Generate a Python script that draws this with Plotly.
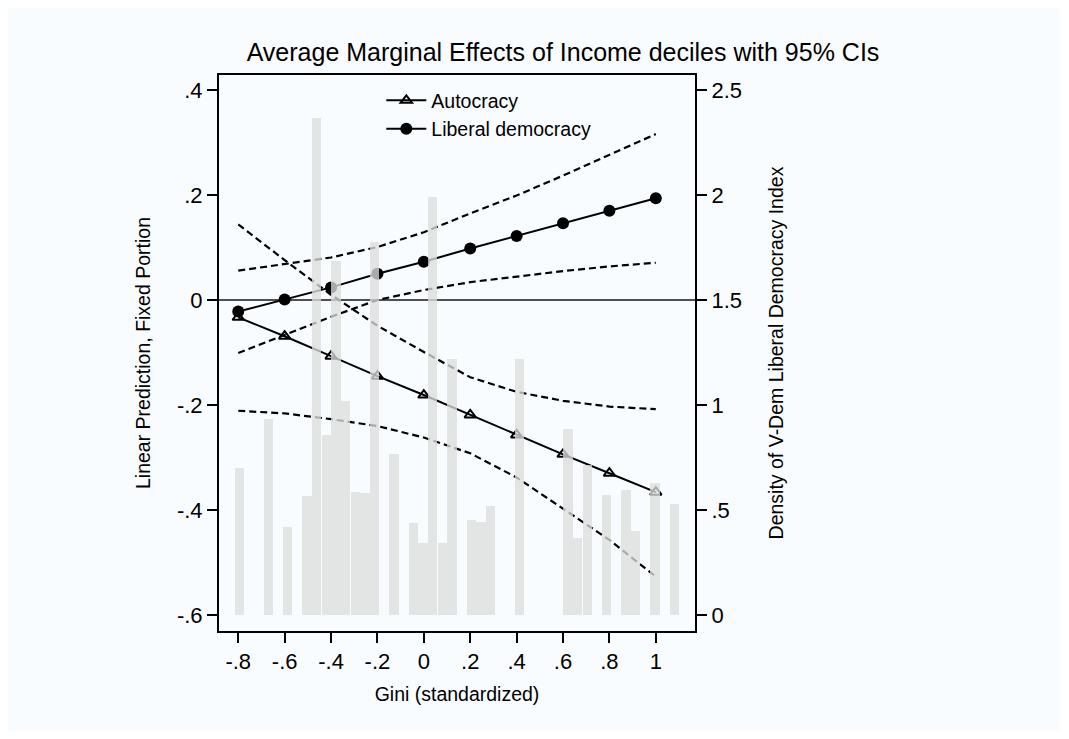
import plotly.graph_objects as go

# ---- data ----
gini_points = [-0.8, -0.6, -0.4, -0.2, 0.0, 0.2, 0.4, 0.6, 0.8, 1.0]
x_tick_labels = ["-.8", "-.6", "-.4", "-.2", "0", ".2", ".4", ".6", ".8", "1"]

autocracy_mean = [-0.033, -0.069, -0.107, -0.145, -0.181, -0.219, -0.257, -0.294, -0.330, -0.366]
autocracy_upper = [0.144, 0.076, 0.010, -0.049, -0.099, -0.147, -0.175, -0.192, -0.203, -0.208]
autocracy_lower = [-0.211, -0.216, -0.227, -0.240, -0.262, -0.292, -0.338, -0.397, -0.457, -0.527]

libdem_mean = [-0.022, 0.001, 0.024, 0.050, 0.073, 0.098, 0.122, 0.146, 0.170, 0.194]
libdem_upper = [0.056, 0.068, 0.081, 0.101, 0.129, 0.165, 0.199, 0.237, 0.276, 0.316]
libdem_lower = [-0.101, -0.067, -0.032, 0.000, 0.019, 0.034, 0.045, 0.055, 0.064, 0.071]

density_x = [-0.795, -0.670, -0.587, -0.503, -0.462, -0.420, -0.378, -0.337, -0.295, -0.253,
             -0.212, -0.128, -0.045, -0.003, 0.038, 0.080, 0.122, 0.205, 0.247, 0.288,
             0.413, 0.622, 0.663, 0.705, 0.788, 0.872, 0.913, 0.997, 1.080]
density_y = [0.703, 0.933, 0.422, 0.568, 2.366, 0.858, 1.686, 1.020, 0.588, 0.581,
             1.778, 0.766, 0.439, 0.345, 1.992, 0.345, 1.220, 0.454, 0.445, 0.520,
             1.221, 0.885, 0.369, 0.715, 0.573, 0.596, 0.403, 0.631, 0.528]

y_left_ticks = [-0.6, -0.4, -0.2, 0.0, 0.2, 0.4]
y_left_labels = ["-.6", "-.4", "-.2", "0", ".2", ".4"]
y_right_ticks = [0, 0.5, 1, 1.5, 2, 2.5]
y_right_labels = ["0", ".5", "1", "1.5", "2", "2.5"]

FONT = "Liberation Sans, Arial, Helvetica, sans-serif"
BG = "#f9fcfe"
W, H = 1053, 723  # page body margin of 8px completes the 1069x739 window

fig = go.Figure()

dash_style = dict(color="black", width=2.2, dash="7px,4px")

for ys in (autocracy_upper, autocracy_lower, libdem_upper, libdem_lower):
    fig.add_trace(go.Scatter(x=gini_points, y=ys, mode="lines", line=dash_style,
                             showlegend=False, hoverinfo="skip"))

fig.add_trace(go.Scatter(
    x=gini_points, y=autocracy_mean, mode="lines+markers", name="Autocracy",
    line=dict(color="black", width=2),
    marker=dict(symbol="triangle-up-open", size=10, color="black", line=dict(width=2, color="black")),
))
fig.add_trace(go.Scatter(
    x=gini_points, y=libdem_mean, mode="lines+markers", name="Liberal democracy",
    line=dict(color="black", width=2),
    marker=dict(symbol="circle", size=12, color="black"),
))

fig.add_trace(go.Bar(
    x=density_x, y=density_y, yaxis="y2", width=0.0405,
    marker=dict(color="rgb(221,221,221)", line=dict(width=0)), opacity=0.77,
    showlegend=False, hoverinfo="skip",
))

axis_common = dict(
    showgrid=False, showline=True, linecolor="black", linewidth=2,
    ticks="outside", ticklen=10, tickwidth=1.5, tickcolor="black",
    tickfont=dict(family=FONT, size=22, color="black"),
)
title_font = dict(family=FONT, size=19.5, color="black")

fig.update_layout(
    width=W, height=H,
    paper_bgcolor=BG, plot_bgcolor=BG,
    margin=dict(l=211, r=366, t=67, b=100),
    title=dict(text="Average Marginal Effects of Income deciles with 95% CIs",
               x=555 / W, xanchor="center",
               y=1 - 44 / H, yanchor="middle",
               font=dict(family=FONT, size=25, color="black")),
    xaxis=dict(range=[-0.883, 1.169], tickvals=gini_points, ticktext=x_tick_labels,
               mirror=True, zeroline=False,
               title=dict(text="Gini (standardized)", font=title_font, standoff=14),
               **axis_common),
    yaxis=dict(range=[-0.6305, 0.4286], tickvals=y_left_ticks, ticktext=y_left_labels,
               zeroline=True, zerolinecolor="#505050", zerolinewidth=2,
               title=dict(text="Linear Prediction, Fixed Portion", font=title_font, standoff=21),
               **axis_common),
    yaxis2=dict(range=[-0.0747, 2.572], tickvals=y_right_ticks, ticktext=y_right_labels,
                overlaying="y", side="right", zeroline=False,
                title=dict(text="Density of V-Dem Liberal Democracy Index", font=title_font, standoff=28),
                **axis_common),
    legend=dict(x=0.341, y=0.989, xanchor="left", yanchor="top", bgcolor="rgba(0,0,0,0)",
                font=dict(family=FONT, size=19.5, color="black"), tracegroupgap=0, itemwidth=40),
    showlegend=True,
    bargap=0,
)

fig.write_html("out.html")
